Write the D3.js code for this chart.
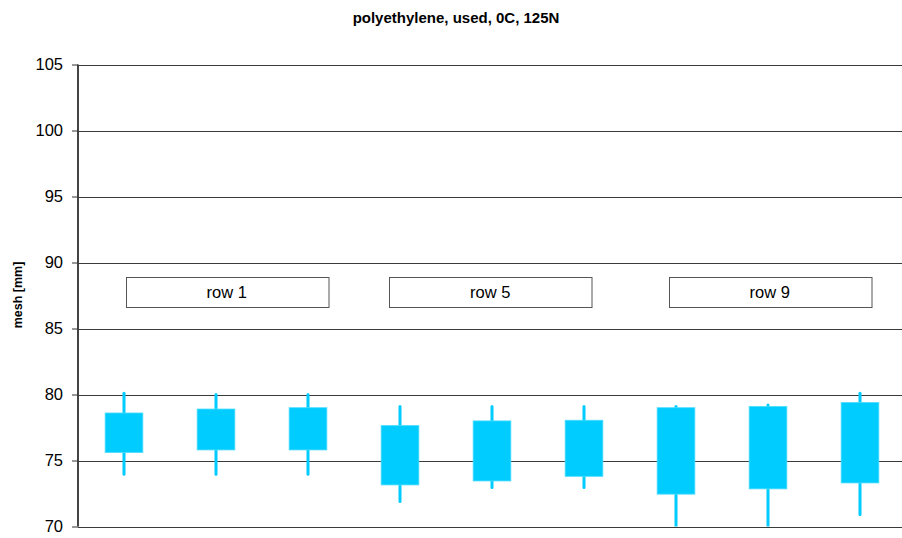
<!DOCTYPE html>
<html>
<head>
<meta charset="utf-8">
<script src="https://cdn.jsdelivr.net/npm/d3@7"></script>
<style>
  html, body { margin: 0; padding: 0; background: #fff; }
  svg { display: block; font-family: "Liberation Sans", Arial, sans-serif; }
</style>
</head>
<body>
<svg id="chart" width="902" height="538"></svg>
<script>
// ---- data ----
const categories = ["1a", "1b", "1c", "5a", "5b", "5c", "9a", "9b", "9c"];
const whiskerHigh = [80.1, 80.0, 80.0, 79.1, 79.1, 79.1, 79.1, 79.2, 80.1];
const boxHigh     = [78.6, 78.9, 79.0, 77.65, 78.0, 78.05, 79.0, 79.1, 79.4];
const boxLow      = [75.6, 75.8, 75.8, 73.15, 73.45, 73.8, 72.45, 72.85, 73.3];
const whiskerLow  = [73.95, 73.95, 73.95, 71.9, 72.95, 72.95, 69.0, 69.0, 70.9];
const groupLabels = ["row 1", "row 5", "row 9"];
const yTicks = [70, 75, 80, 85, 90, 95, 100, 105];
const titleText = "polyethylene, used, 0C, 125N";
const yTitle = "mesh [mm]";

(function () {
// ---- layout ----
const svg = d3.select("#chart");
const pLeft = 78, pRight = 906, pTop = 64.5, pBottom = 526.5;
const color = "#00CCFF";

const x = d3.scaleBand().domain(categories).range([pLeft, pRight]).paddingInner(0).paddingOuter(0);
const y = d3.scaleLinear().domain([70, 105]).range([pBottom, pTop]);

svg.append("defs").append("clipPath").attr("id", "plotclip")
  .append("rect").attr("x", pLeft).attr("y", pTop).attr("width", pRight - pLeft).attr("height", pBottom - pTop);

// gridlines
svg.append("g").selectAll("line").data(yTicks).join("line")
  .attr("x1", pLeft).attr("x2", 902)
  .attr("y1", d => Math.round(y(d)) + 0.5).attr("y2", d => Math.round(y(d)) + 0.5)
  .attr("stroke", "#3a3a3a").attr("stroke-width", 1);

// candles
const g = svg.append("g").attr("clip-path", "url(#plotclip)");
const bw = x.bandwidth();
const boxW = bw * 0.41;
categories.forEach((c, i) => {
  const cx = x(c) + bw / 2;
  g.append("line")
    .attr("x1", cx).attr("x2", cx)
    .attr("y1", y(whiskerHigh[i])).attr("y2", y(whiskerLow[i]))
    .attr("stroke", color).attr("stroke-width", 3).attr("stroke-linecap", "round");
  g.append("rect")
    .attr("x", cx - boxW / 2).attr("width", boxW)
    .attr("y", y(boxHigh[i])).attr("height", y(boxLow[i]) - y(boxHigh[i]))
    .attr("fill", color).attr("stroke", "#4fdcff").attr("stroke-width", 0.8);
});

// y axis
const yAxis = d3.axisLeft(y).tickValues(yTicks).tickSize(6).tickPadding(9).tickFormat(d3.format("d"));
const ga = svg.append("g").attr("transform", `translate(${pLeft},0)`).call(yAxis);
ga.select(".domain").attr("stroke", "#444").attr("stroke-width", 2).attr("d", `M0,${pTop}V${pBottom}`);
ga.selectAll(".tick line").attr("stroke", "#333");
ga.selectAll(".tick text").attr("font-size", 16.5).attr("fill", "#000")
  .attr("font-family", "'Liberation Sans', Arial, sans-serif");

// group label boxes
const labelStart = [0, 3, 6];
const labelOffset = [1.5, -11, -7.5];
const labelW = 202.5;
const labelTop = y(88.9), labelBot = y(86.6);
groupLabels.forEach((t, i) => {
  const lx = x(categories[labelStart[i]]) + bw / 2 + labelOffset[i];
  svg.append("rect")
    .attr("x", Math.round(lx) + 0.5).attr("y", Math.round(labelTop) + 0.5)
    .attr("width", labelW).attr("height", Math.round(labelBot - labelTop))
    .attr("fill", "#fff").attr("stroke", "#555").attr("stroke-width", 1);
  svg.append("text")
    .attr("x", lx + labelW / 2).attr("y", (labelTop + labelBot) / 2 + 1.5)
    .attr("text-anchor", "middle").attr("dominant-baseline", "middle")
    .attr("font-size", 16.5).attr("fill", "#000").text(t);
});

// title
svg.append("text").attr("x", 456).attr("y", 23).attr("text-anchor", "middle")
  .attr("font-size", 15).attr("font-weight", "bold").text(titleText);

// y title
svg.append("text").attr("transform", `translate(22,${(pTop + pBottom) / 2 - 0.5}) rotate(-90)`)
  .attr("text-anchor", "middle").attr("font-size", 12.5).attr("font-weight", "bold").text(yTitle);
})();
</script>
</body>
</html>
